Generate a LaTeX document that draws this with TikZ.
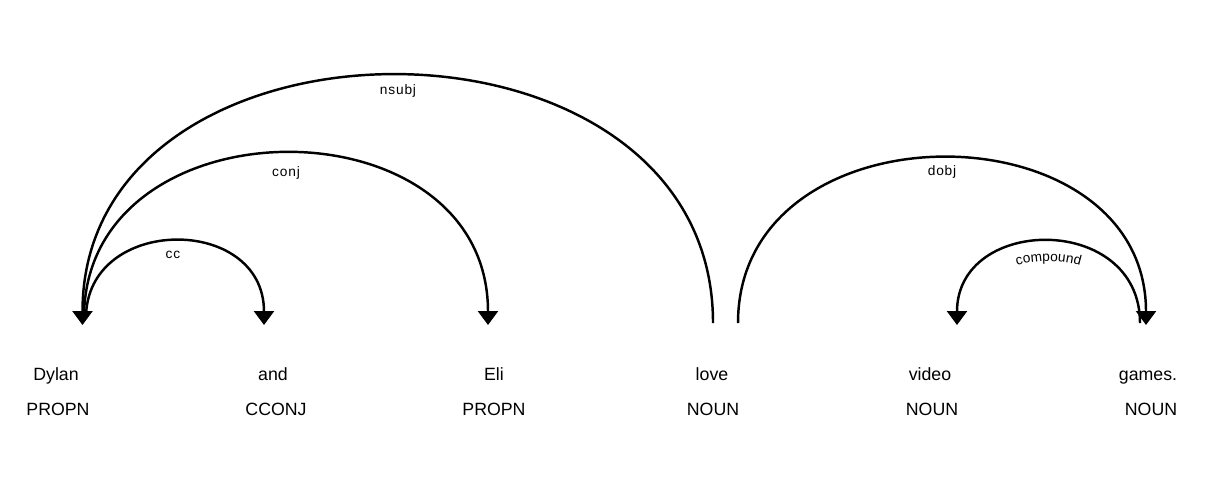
\documentclass[tikz,border=0pt]{standalone}
\usepackage{fontspec}
\setmainfont{Liberation Sans}
\usetikzlibrary{arrows.meta}
\usetikzlibrary{decorations.text}

\tikzset{
  word/.style={font=\fontsize{10.1}{12}\selectfont, anchor=base, inner sep=0pt},
  deplabel/.style={font=\fontsize{7.8}{9}\selectfont\addfontfeatures{LetterSpace=6}, anchor=center, inner sep=0pt},
  deparc/.style={line width=1.4pt},
  deparrow/.style={deparc, -{Triangle[width=0.4cm,length=0.28cm]}},
}

\begin{document}
\begin{tikzpicture}[x=0.02cm,y=-0.02cm]
\useasboundingbox (0,0) rectangle (1219,488);

% words and tags
\node[word] (dylan) at (56,380) {Dylan};
\node[word] (and) at (273,380) {and};
\node[word] (eli) at (494,380) {Eli};
\node[word] (love) at (712,380) {love};
\node[word] (video) at (930,380) {video};
\node[word] (games) at (1148,380) {games.};
\node[word] (dylantag) at (58,415) {PROPN};
\node[word] (andtag) at (276,415) {CCONJ};
\node[word] (elitag) at (494,415) {PROPN};
\node[word] (lovetag) at (713,415) {NOUN};
\node[word] (videotag) at (932,415) {NOUN};
\node[word] (gamestag) at (1151,415) {NOUN};

% arc ends
\coordinate (dylanA) at (82.5,325);
\coordinate (dylanB) at (84,318);
\coordinate (dylanC) at (86,318);
\coordinate (andA) at (264,325);
\coordinate (eliA) at (488,325);
\coordinate (loveA) at (713,323);
\coordinate (loveB) at (738,323);
\coordinate (videoA) at (957,325);
\coordinate (gamesA) at (1140,323);
\coordinate (gamesB) at (1146,325);

% arcs
\draw[deparrow] (loveA) .. controls +(0,-331) and +(0,-331) .. (dylanA);
\draw[deparrow] (dylanB) .. controls +(0,-220) and +(0,-228) .. (eliA);
\draw[deparrow] (dylanC) .. controls +(0,-103) and +(0,-111) .. (andA);
\draw[deparrow] (loveB) .. controls +(0,-221) and +(0,-221) .. (gamesB);
\draw[deparrow] (gamesA) .. controls +(0,-110) and +(0,-110) .. (videoA);

% labels
\node[deplabel] (nsubjlabel) at (398,91) {nsubj};
\node[deplabel] (conjlabel) at (286,173) {conj};
\node[deplabel] (cclabel) at (173,255) {cc};
\node[deplabel] (dobjlabel) at (942,172) {dobj};
\path[decorate, decoration={text along path, text align=center,
  text={|\fontsize{7.8}{9}\selectfont|compound}}]
  (957,343) .. controls (957,234) and (1140,234) .. (1140,343);

\end{tikzpicture}
\end{document}
